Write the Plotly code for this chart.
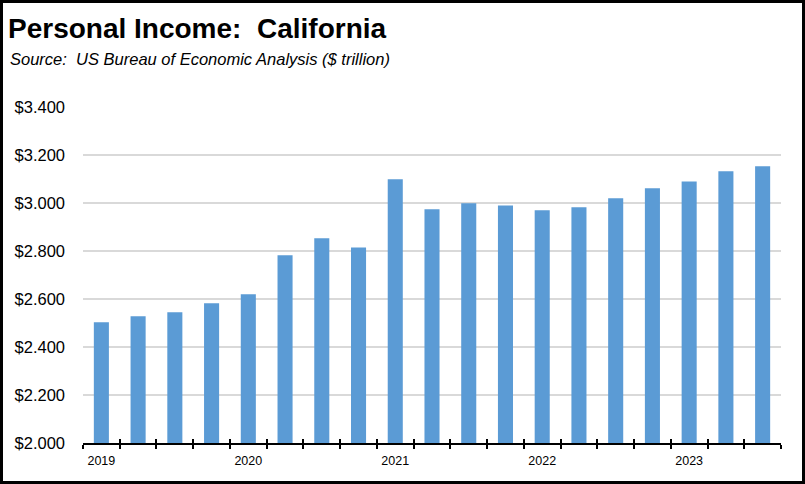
import plotly.graph_objects as go

quarters = [
    "2019 Q1", "2019 Q2", "2019 Q3", "2019 Q4",
    "2020 Q1", "2020 Q2", "2020 Q3", "2020 Q4",
    "2021 Q1", "2021 Q2", "2021 Q3", "2021 Q4",
    "2022 Q1", "2022 Q2", "2022 Q3", "2022 Q4",
    "2023 Q1", "2023 Q2", "2023 Q3",
]
income_trillion = [
    2.503, 2.528, 2.545, 2.582,
    2.620, 2.782, 2.853, 2.815,
    3.099, 2.974, 2.999, 2.990,
    2.970, 2.982, 3.020, 3.061,
    3.090, 3.132, 3.153,
]
tick_labels = [q[:4] if q.endswith("Q1") else "" for q in quarters]

W, H = 805, 484
ML, MR, MT, MB = 83, 24, 107, 41
PW, PH = W - ML - MR, H - MT - MB

fig = go.Figure()
fig.add_trace(go.Bar(
    x=quarters, y=income_trillion,
    marker=dict(color="#5B9BD5", line=dict(width=0)),
    hoverinfo="x+y",
))

fig.update_layout(
    width=W, height=H,
    margin=dict(l=ML, r=MR, t=MT, b=MB, autoexpand=False),
    paper_bgcolor="white", plot_bgcolor="white",
    bargap=0.59,
    showlegend=False,
    title=dict(
        text="<b>Personal Income:  California</b>",
        font=dict(family="Liberation Sans, Arial, sans-serif", size=28, color="black"),
        x=8 / W, xanchor="left", y=1 - 28 / H, yanchor="middle",
        xref="container", yref="container",
    ),
    xaxis=dict(
        type="category",
        categoryorder="array", categoryarray=quarters,
        tickmode="array", tickvals=quarters, ticktext=tick_labels,
        tickson="boundaries", tickangle=0,
        ticks="outside", ticklen=4, tickwidth=2, tickcolor="black",
        showline=True, linecolor="black", linewidth=2,
        showgrid=False,
        tickfont=dict(family="Liberation Sans, Arial, sans-serif", size=12.5, color="black"),
        ticklabelstandoff=5,
    ),
    xaxis2=dict(
        type="category", overlaying="x", matches="x",
        categoryorder="array", categoryarray=quarters,
        tickmode="array", tickvals=quarters, ticktext=["" for _ in quarters],
        tickson="boundaries", tickangle=0,
        ticks="inside", ticklen=4, tickwidth=2, tickcolor="black",
        showline=False, showgrid=False, showticklabels=False,
        side="bottom", anchor="y",
    ),
    yaxis=dict(
        range=[2.0, 3.4], dtick=0.2, tick0=2.0,
        tickformat="$.3f",
        showgrid=True, gridcolor="#d9d9d9", gridwidth=1.5,
        zeroline=False, showline=False, ticks="",
        tickfont=dict(family="Liberation Sans, Arial, sans-serif", size=16.5, color="black"),
        ticklabelstandoff=17,
    ),
)

fig.add_trace(go.Bar(x=quarters, y=[None] * len(quarters), xaxis="x2",
                     hoverinfo="skip", showlegend=False))

fig.add_annotation(
    text="<i>Source:  US Bureau of Economic Analysis ($ trillion)</i>",
    xref="paper", yref="paper",
    x=(8 - ML) / PW, y=(H - MB - 59) / PH,
    xanchor="left", yanchor="middle", showarrow=False,
    font=dict(family="Liberation Sans, Arial, sans-serif", size=16.5, color="black"),
)

# outer frame
fig.add_shape(
    type="rect", xref="paper", yref="paper",
    x0=(1.5 - ML) / PW, x1=(W - 1.5 - ML) / PW,
    y0=(H - MB - (H - 1.5)) / PH, y1=(H - MB - 1.5) / PH,
    line=dict(color="black", width=3), fillcolor="rgba(0,0,0,0)",
    layer="above",
)

fig.write_html(
    "out.html",
    config={"displayModeBar": False},
    post_script="document.body.style.margin='0';document.body.style.overflow='hidden';",
)
